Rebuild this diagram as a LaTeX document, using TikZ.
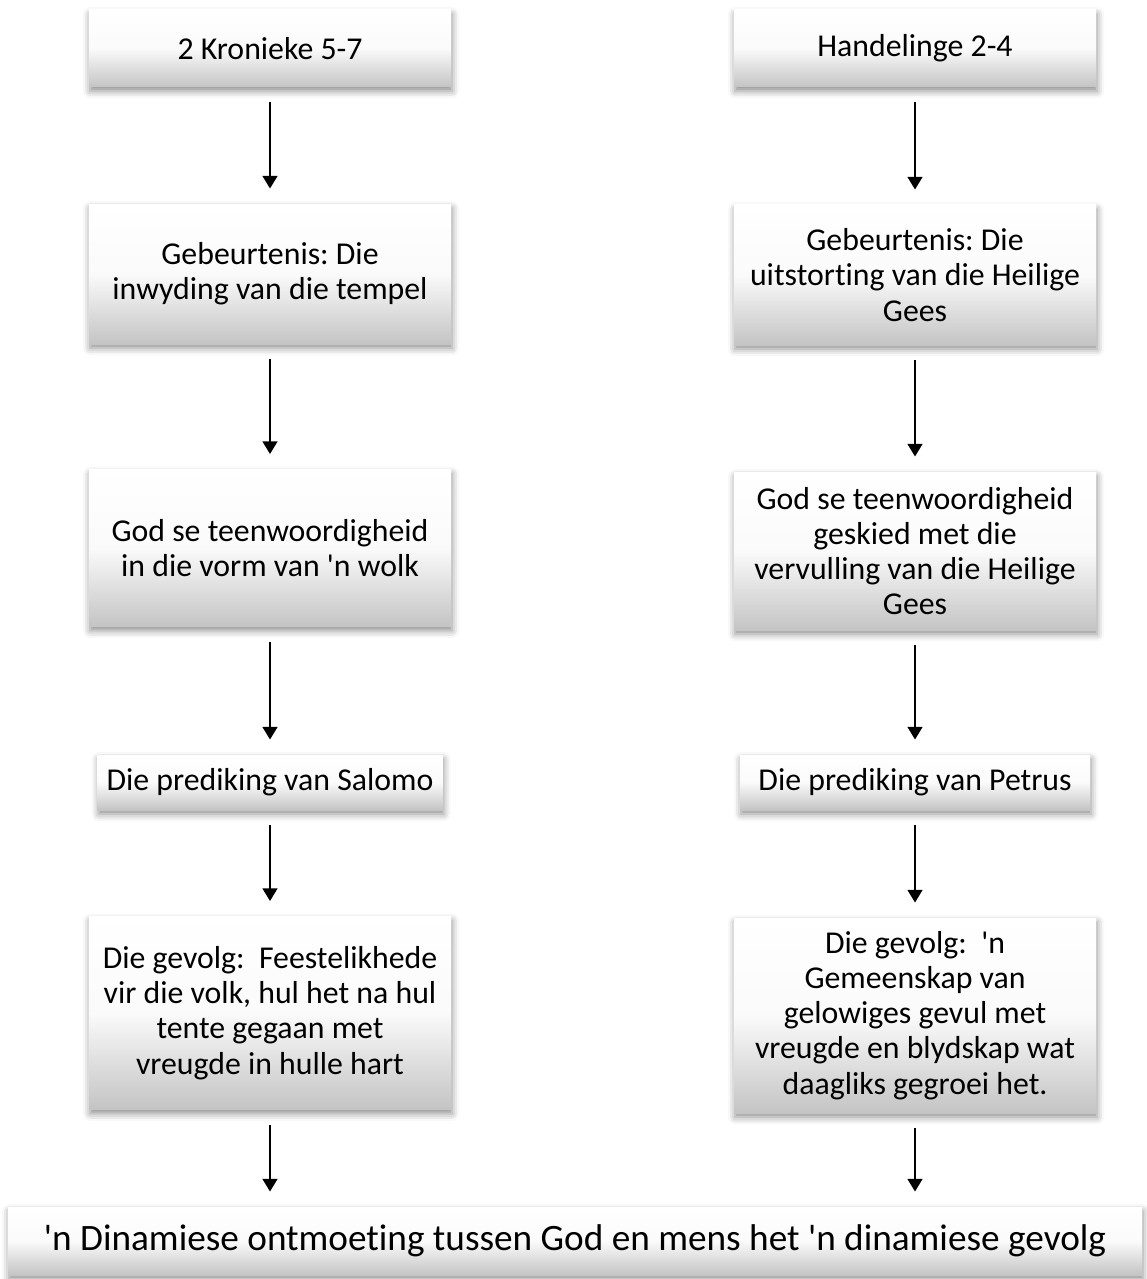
\documentclass[tikz,border=0pt]{standalone}
\usepackage{fontspec}
\setmainfont{Carlito}[Ligatures={TeXOff,CommonOff}]
\usetikzlibrary{arrows.meta,shadows.blur}
\definecolor{boxbot}{RGB}{196,196,196}
\frenchspacing

\begin{document}
\begin{tikzpicture}[x=1cm,y=-1cm,>={Triangle[width=4.2pt,length=3.6pt]},
  box/.style={top color=white,bottom color=boxbot,middle color=white!92!boxbot,
    blur shadow={shadow xshift=0.3pt,shadow yshift=-1.2pt,shadow blur radius=2pt,shadow opacity=45},
    align=center,font=\fontsize{9.05}{10}\selectfont,inner sep=2pt,minimum width=3.62cm},
  flow/.style={->,line width=0.6pt,shorten >=4.2pt,shorten <=4.2pt}]
\useasboundingbox (0,0) rectangle (11.46,12.79);
% left column
\node[box,minimum height=0.77cm] (l1) at (2.70,0.485) {2 Kronieke 5-7};
\node[box,minimum height=1.40cm] (l2) at (2.70,2.74) {Gebeurtenis: Die\\inwyding van die tempel};
\node[box,minimum height=1.57cm] (l3) at (2.70,5.48) {God se teenwoordigheid\\in die vorm van 'n wolk};
\node[box,minimum width=3.45cm,minimum height=0.55cm] (l4) at (2.70,7.825) {Die prediking van Salomo};
\node[box,minimum height=1.93cm] (l5) at (2.70,10.13) {Die gevolg: \ Feestelikhede\\vir die volk, hul het na hul\\tente gegaan met\\vreugde in hulle hart};
% right column
\node[box,minimum height=0.77cm] (r1) at (9.15,0.485) {Handelinge 2-4};
\node[box,minimum height=1.40cm] (r2) at (9.15,2.75) {Gebeurtenis: Die\\uitstorting van die Heilige\\Gees};
\node[box,minimum height=1.58cm] (r3) at (9.15,5.51) {God se teenwoordigheid\\geskied met die\\vervulling van die Heilige\\Gees};
\node[box,minimum width=3.50cm,minimum height=0.55cm] (r4) at (9.15,7.825) {Die prediking van Petrus};
\node[box,minimum height=1.95cm] (r5) at (9.15,10.155) {Die gevolg: \ 'n\\Gemeenskap van\\gelowiges gevul met\\vreugde en blydskap wat\\daagliks gegroei het.};
% conclusion
\node[box,minimum width=11.34cm,minimum height=0.68cm,font=\fontsize{10.6}{13}\selectfont] (end) at (5.75,12.41) {'n Dinamiese ontmoeting tussen God en mens het 'n dinamiese gevolg};
\draw[flow] (l1)--(l2);\draw[flow] (l2)--(l3);\draw[flow] (l3)--(l4);\draw[flow] (l4)--(l5);
\draw[flow] (r1)--(r2);\draw[flow] (r2)--(r3);\draw[flow] (r3)--(r4);\draw[flow] (r4)--(r5);
\draw[flow] (l5)--(l5 |- end.north);\draw[flow] (r5)--(r5 |- end.north);
\end{tikzpicture}
\end{document}
